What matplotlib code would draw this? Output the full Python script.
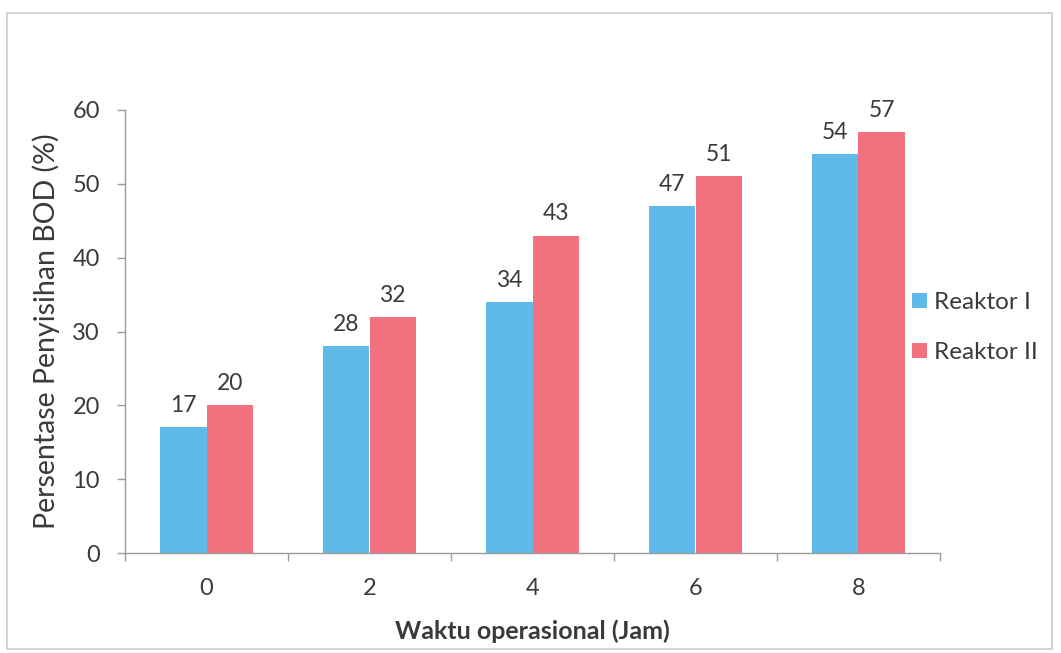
import matplotlib
matplotlib.use("Agg")
import matplotlib.pyplot as plt
from matplotlib.patches import Rectangle
import numpy as np

plt.rcParams['font.family'] = ['Lato', 'DejaVu Sans']

jam = ["0", "2", "4", "6", "8"]
reaktor_1 = [17, 28, 34, 47, 54]
reaktor_2 = [20, 32, 43, 51, 57]
series_names = ["Reaktor I", "Reaktor II"]
y_ticks = [0, 10, 20, 30, 40, 50, 60]

blue = "#5FBAE9"
red = "#F2717E"
text_col = "#3a3a3a"
axis_col = "#9a9a9a"

fig = plt.figure(figsize=(10.61, 6.53), dpi=100)
ax = fig.add_axes([125 / 1061, 100 / 653, 815 / 1061, 443 / 653])

x = np.arange(len(jam))
w = 0.283
b1 = ax.bar(x - w / 2, reaktor_1, w, color=blue, label=series_names[0])
b2 = ax.bar(x + w / 2, reaktor_2, w, color=red, label=series_names[1])

for bars, vals in ((b1, reaktor_1), (b2, reaktor_2)):
    for r, v in zip(bars, vals):
        ax.text(r.get_x() + r.get_width() / 2, v + 1.5, f"{v}",
                ha="center", va="bottom", fontsize=16.5, color=text_col)

ax.set_xlim(-0.5, len(jam) - 0.5)
ax.set_ylim(0, 60)
ax.set_yticks(y_ticks)
ax.set_yticklabels([str(t) for t in y_ticks], fontsize=17, color=text_col)
ax.set_xticks(x)
ax.set_xticklabels(jam, fontsize=17, color=text_col)
ax.tick_params(axis="x", length=0, pad=18)
ax.set_xticks(np.arange(-0.5, len(jam), 1.0), minor=True)
ax.tick_params(axis="x", which="minor", length=6, color=axis_col, width=1)
ax.tick_params(axis="y", length=6, color=axis_col, width=1, pad=12)

for s in ("top", "right"):
    ax.spines[s].set_visible(False)
for s in ("left", "bottom"):
    ax.spines[s].set_color(axis_col)
    ax.spines[s].set_linewidth(1)

ax.set_ylabel("Persentase Penyisihan BOD (%)", fontsize=20.5, color=text_col, labelpad=9)
ax.set_xlabel("Waktu operasional (Jam)", fontsize=18, fontweight="bold", color=text_col, labelpad=15)

leg = ax.legend(loc="center left", bbox_to_anchor=(0.966, 0.509), frameon=False,
                fontsize=17.5, handlelength=0.6, handleheight=0.6, handletextpad=0.3,
                labelspacing=1.2, borderaxespad=0, borderpad=0)
for t in leg.get_texts():
    t.set_color(text_col)

# outer chart border
fig.patches.append(Rectangle((7 / 1061, 4 / 653), 1045 / 1061, 636 / 653,
                             transform=fig.transFigure, fill=False,
                             edgecolor="#c8ccd4", linewidth=1.2))

fig.savefig("out.png", dpi=100, facecolor="white")
